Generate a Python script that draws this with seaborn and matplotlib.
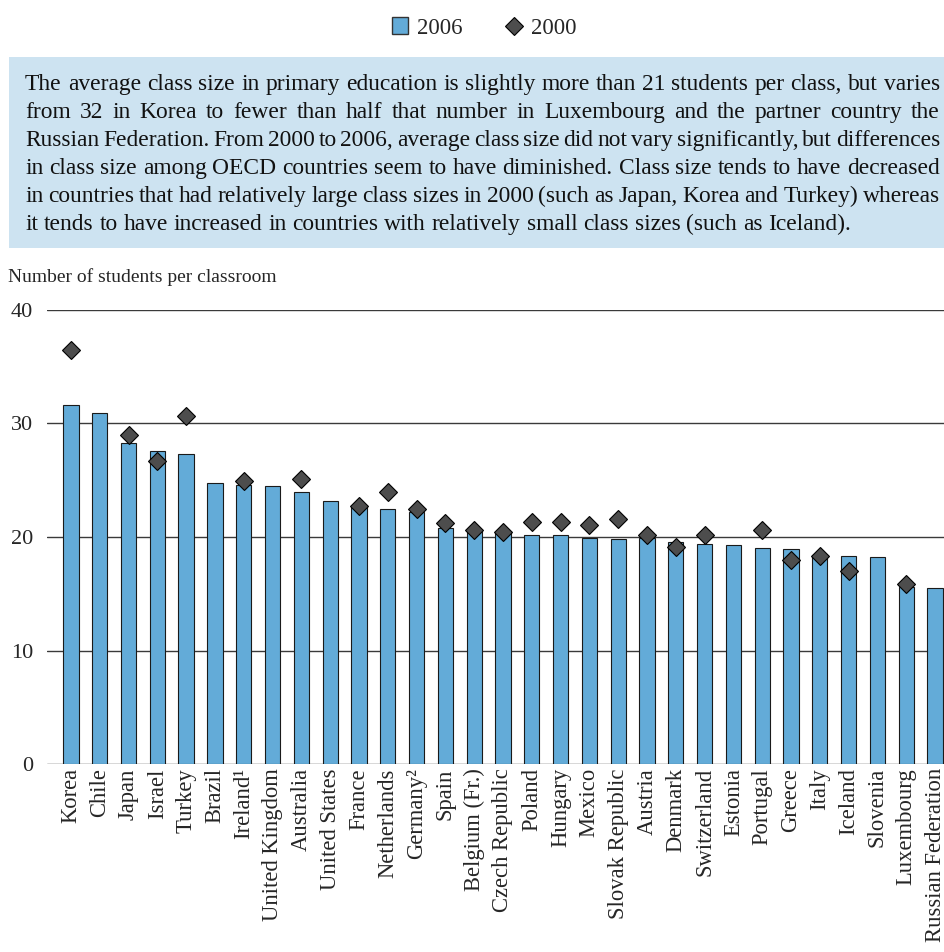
import numpy as np
import pandas as pd
import seaborn as sns
import matplotlib.pyplot as plt
from matplotlib.patches import Patch, Rectangle
from matplotlib.lines import Line2D

# Average class size in primary education, 2000 and 2006

countries = [
    "Korea", "Chile", "Japan", "Israel", "Turkey", "Brazil", "Ireland\u00b9",
    "United Kingdom", "Australia", "United States", "France", "Netherlands",
    "Germany\u00b2", "Spain", "Belgium (Fr.)", "Czech Republic", "Poland",
    "Hungary", "Mexico", "Slovak Republic", "Austria", "Denmark",
    "Switzerland", "Estonia", "Portugal", "Greece", "Italy", "Iceland",
    "Slovenia", "Luxembourg", "Russian Federation",
]
size_2006 = [
    31.6, 30.9, 28.3, 27.6, 27.3, 24.8, 24.6, 24.5, 24.0, 23.2, 22.6, 22.5,
    22.2, 20.8, 20.5, 20.4, 20.2, 20.2, 19.9, 19.8, 19.9, 19.6, 19.4, 19.3,
    19.0, 18.9, 18.4, 18.3, 18.2, 15.6, 15.5,
]
nan = np.nan
size_2000 = [
    36.5, nan, 29.0, 26.7, 30.7, nan, 24.9, nan, 25.1, nan, 22.7, 24.0,
    22.5, 21.2, 20.6, 20.4, 21.3, 21.3, 21.1, 21.6, 20.2, 19.1, 20.2, nan,
    20.6, 18.0, 18.3, 17.0, nan, 15.9, nan,
]
yticks = [0, 10, 20, 30, 40]

blurb = [
    "The average class size in primary education is slightly more than 21 students per class, but varies",
    "from 32 in Korea to fewer than half that number in Luxembourg and the partner country the",
    "Russian Federation. From 2000 to 2006, average class size did not vary significantly, but differences",
    "in class size among OECD countries seem to have diminished. Class size tends to have decreased",
    "in countries that had relatively large class sizes in 2000 (such as Japan, Korea and Turkey) whereas",
    "it tends to have increased in countries with relatively small class sizes (such as Iceland).",
]

bar_blue = "#63abd8"
diamond_grey = "#4d4d4d"

sns.set_style("white")
plt.rcParams["font.family"] = ["Liberation Serif", "DejaVu Serif"]

W, H = 944, 952
fig = plt.figure(figsize=(W / 100, H / 100), dpi=100)
ax = fig.add_axes([47 / W, 1 - 764 / H, 897 / W, 454 / H])

df = pd.DataFrame({"country": countries, "y2006": size_2006, "y2000": size_2000})

sns.barplot(
    data=df, x="country", y="y2006", order=countries, color=bar_blue,
    saturation=1, width=0.53, edgecolor="#1a1a1a", linewidth=0.8, ax=ax, zorder=2,
)
sns.pointplot(
    data=df, x="country", y="y2000", order=countries, color=diamond_grey,
    markers="D", linestyle="none", errorbar=None, markersize=9.5,
    markeredgecolor="black", markeredgewidth=0.8, ax=ax, zorder=3,
)

ax.set_xlim(-0.83, 30.31)
ax.set_ylim(0, 40)
ax.set_yticks(yticks)
ax.yaxis.grid(True, color="#3a3a3a", linewidth=1)
ax.set_axisbelow(True)
for s in ax.spines.values():
    s.set_visible(False)
ax.set_xlabel("")
ax.set_ylabel("")
ax.tick_params(axis="y", length=0, pad=10, labelsize=16)
ax.tick_params(axis="x", length=0, pad=3, labelsize=16.3)
ax.set_xticks(range(len(countries)))
ax.set_xticklabels(countries, rotation=90, ha="center", va="top")

fig.text(8 / W, 1 - 277 / H, "Number of students per classroom",
         fontsize=14, va="center", ha="left")

# shaded text box
fig.patches.append(Rectangle((9 / W, 1 - 248 / H), (W - 9) / W, 191 / H,
                             transform=fig.transFigure, facecolor="#cde3f1",
                             edgecolor="none", zorder=0))

renderer = fig.canvas.get_renderer()
x_left, x_right = 25, 940
fs = 16.9
for i, line in enumerate(blurb):
    yb = 1 - (90 + 28 * i) / H
    words = line.split(" ")
    txts = [fig.text(0, yb, w, fontsize=fs, va="baseline", ha="left",
                     color="#111111") for w in words]
    widths = [t.get_window_extent(renderer).width for t in txts]
    if i < len(blurb) - 1:
        gap = (x_right - x_left - sum(widths)) / (len(words) - 1)
    else:
        gap = fs * 0.25 * 100 / 72
    x = x_left
    for t, w in zip(txts, widths):
        t.set_x(x / W)
        x += w + gap

handles = [
    Patch(facecolor=bar_blue, edgecolor="#333333", linewidth=1),
    Line2D([], [], marker="D", linestyle="none", markersize=9.5,
           markerfacecolor=diamond_grey, markeredgecolor="black",
           markeredgewidth=0.8),
]
fig.legend(handles, ["2006", "2000"], loc="center", ncol=2,
           bbox_to_anchor=(484 / W, 1 - 28 / H), frameon=False,
           fontsize=16.5, handlelength=0.7, handleheight=0.7,
           handletextpad=0.4, columnspacing=1.9)

fig.savefig("out.png", dpi=100)
